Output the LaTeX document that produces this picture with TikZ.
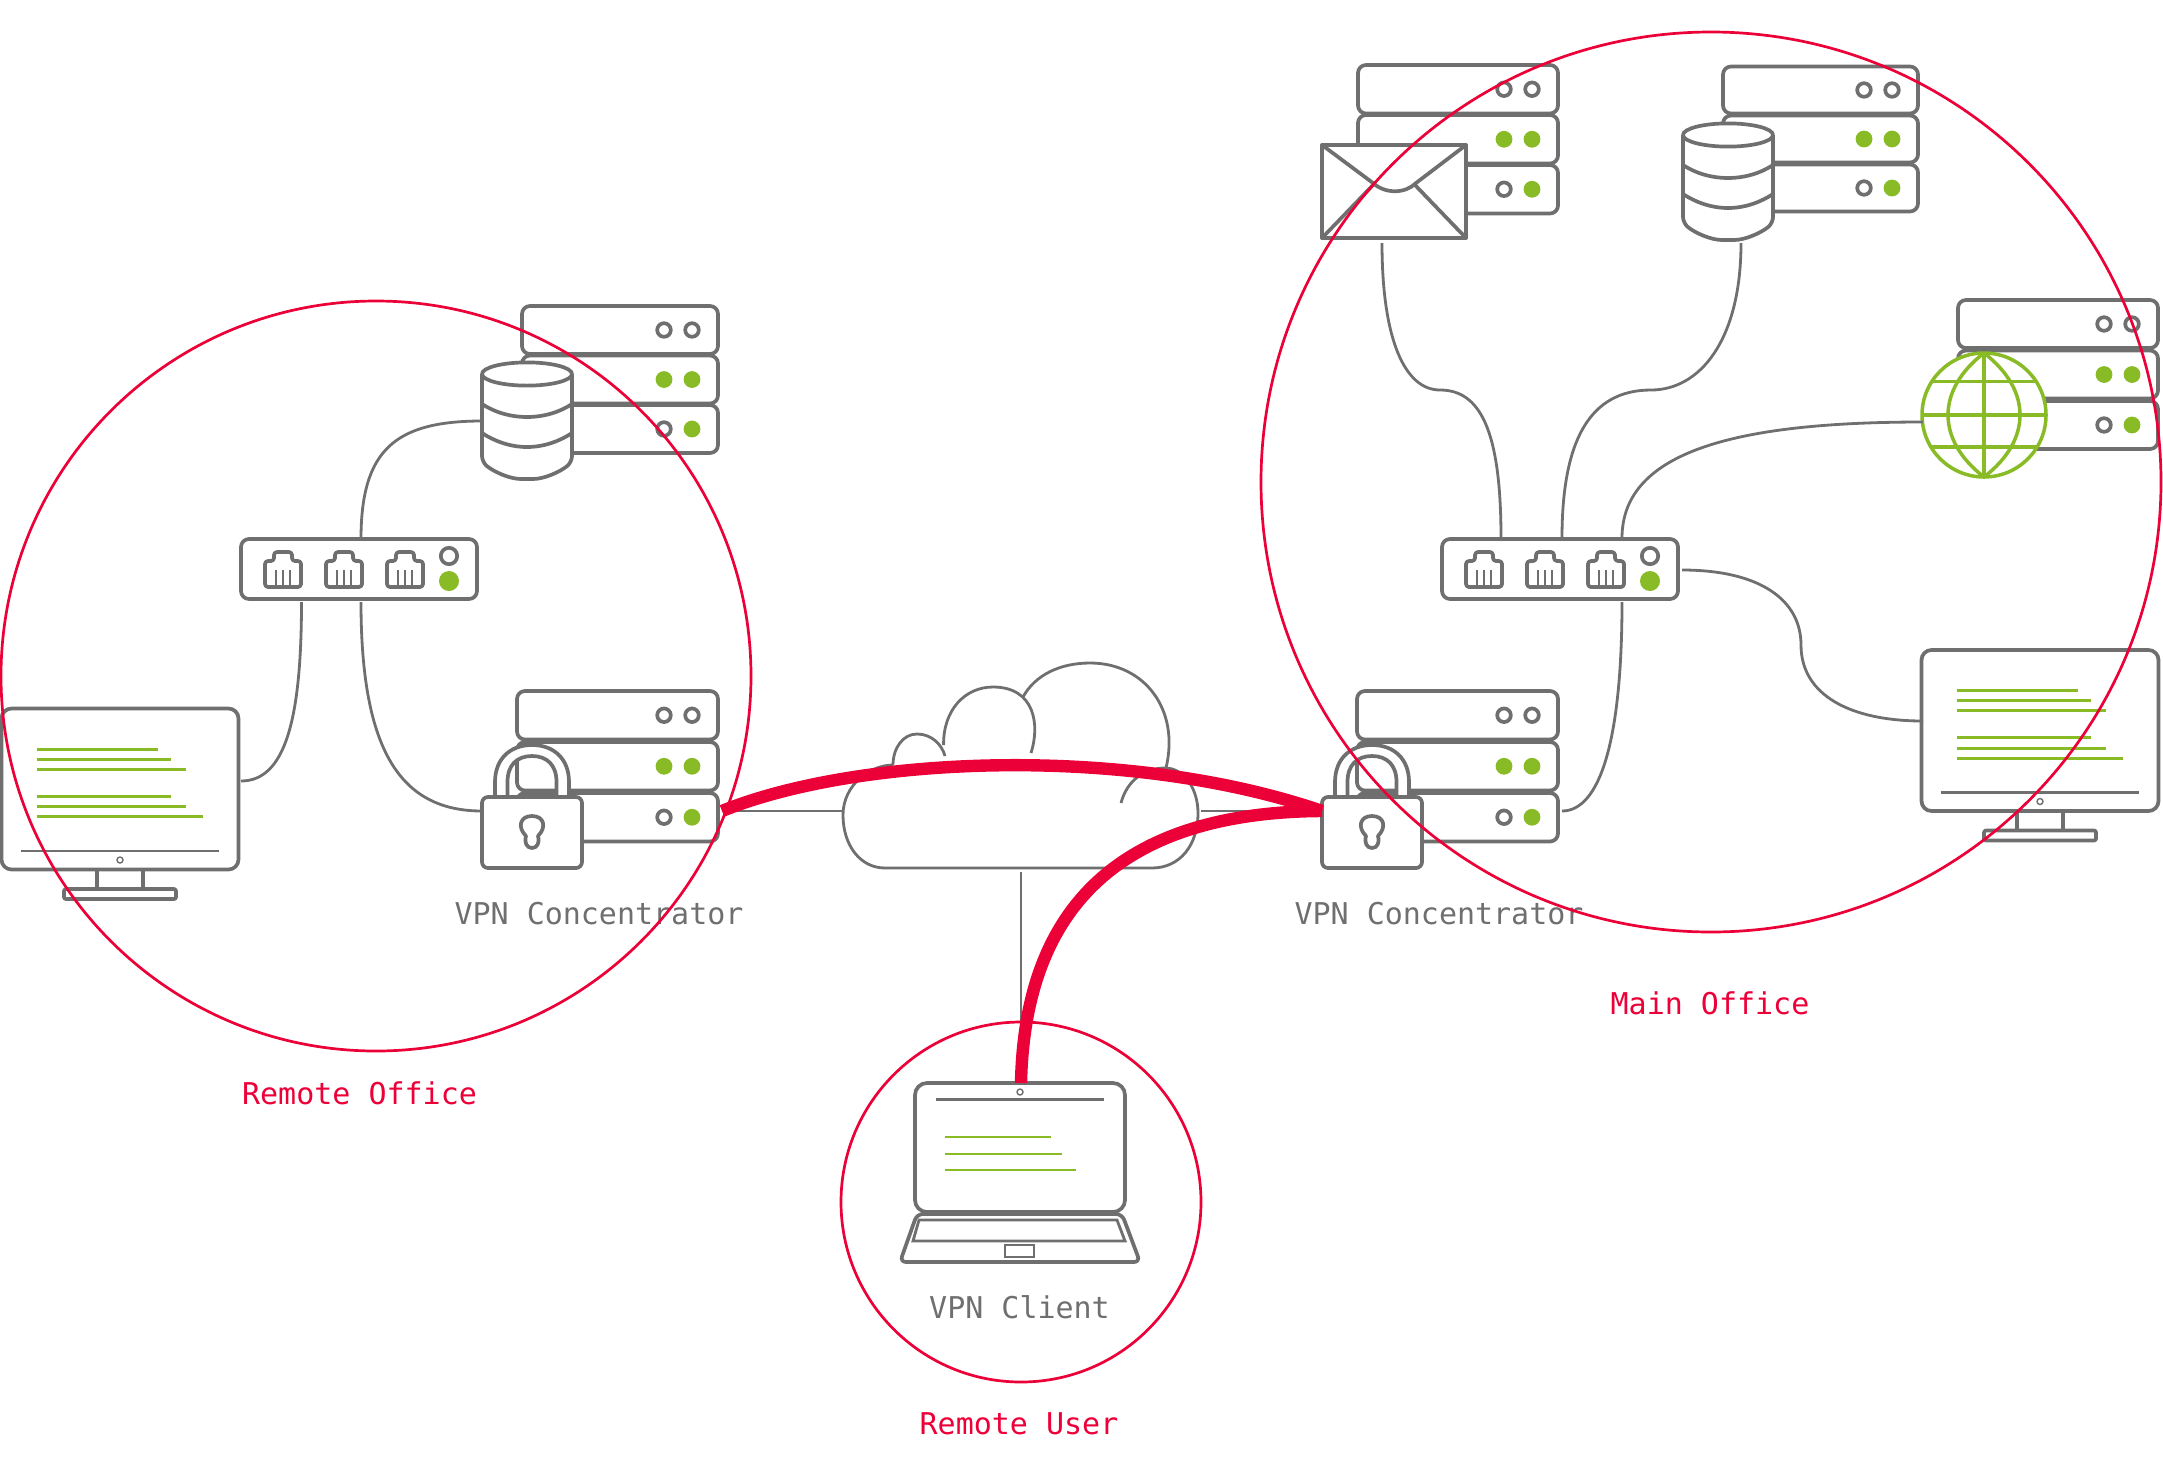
\documentclass[tikz,border=0pt]{standalone}
\usepackage{fontspec}
\usepackage{xcolor}
\newfontfamily\labelfont{DejaVu Sans Mono}
\definecolor{maingray}{RGB}{111,111,111}
\definecolor{maingreen}{RGB}{137,187,38}
\definecolor{mainred}{RGB}{236,0,56}
\tikzset{
  iconline/.style={draw=maingray,line width=1.85pt,line join=round},
  wire/.style={draw=maingray,line width=1.4pt},
  greenline/.style={draw=maingreen,line width=1.5pt},
  zone/.style={draw=mainred,line width=1.35pt},
  tunnel/.style={draw=mainred,line width=6.2pt},
  anchorbox/.style={inner sep=0pt,outer sep=0pt},
  devlabel/.style={text=maingray,font=\labelfont\fontsize{15}{18}\selectfont},
  zonelabel/.style={text=mainred,font=\labelfont\fontsize{15}{18}\selectfont}
}
\newcommand{\serverstack}[5]{
  \begin{scope}[shift={(#1,#2)}]
    \foreach \row in {0,1,2}
      \draw[iconline,fill=white,rounded corners=4pt] (0,\row*#5) rectangle (#3,\row*#5+#4);
    \draw[iconline] (#3-54,#4/2) circle (3.4pt);
    \draw[iconline] (#3-26,#4/2) circle (3.4pt);
    \fill[maingreen] (#3-54,#5+#4/2) circle (4.2pt);
    \fill[maingreen] (#3-26,#5+#4/2) circle (4.2pt);
    \draw[iconline] (#3-54,2*#5+#4/2) circle (3.4pt);
    \fill[maingreen] (#3-26,2*#5+#4/2) circle (4.2pt);
  \end{scope}
}
\newcommand{\dbicon}[3]{
  \begin{scope}[shift={(#2,#3)}]
    \draw[iconline,fill=white,rounded corners=3pt] (0,12) -- (0,100) .. controls (12,110) and (28,117) .. (45,117) .. controls (62,117) and (78,110) .. (90,100) -- (90,12);
    \draw[iconline,fill=white] (45,12) ellipse (22.5pt and 5.8pt);
    \draw[iconline] (0,42) .. controls (12,50) and (28,55) .. (45,55) .. controls (62,55) and (78,50) .. (90,42);
    \draw[iconline] (0,71) .. controls (12,79) and (28,85) .. (45,85) .. controls (62,85) and (78,79) .. (90,71);
    \node[anchorbox,minimum width=45pt,minimum height=58pt] (#1) at (45,58) {};
  \end{scope}
}
\newcommand{\lockicon}[2]{
  \begin{scope}[shift={(#2,745)}]
    \draw[iconline,fill=white] (13,52) -- (13,37) .. controls (13,14) and (28,0) .. (50,0) .. controls (72,0) and (87,14) .. (87,37) -- (87,52) -- (74.5,52) -- (74.5,37) .. controls (74.5,20) and (65,11) .. (50,11) .. controls (35,11) and (25.5,20) .. (25.5,37) -- (25.5,52) -- cycle;
    \node[iconline,fill=white,rounded corners=3pt,anchorbox,minimum width=50pt,minimum height=35.5pt] (#1) at (50,87.5) {};
    \draw[iconline] (44,91) .. controls (35,82) and (38,71) .. (50,71) .. controls (62,71) and (65,82) .. (56,91) .. controls (58,98) and (55,103) .. (50,103) .. controls (45,103) and (42,98) .. (44,91) -- cycle;
  \end{scope}
}
\newcommand{\switchicon}[2]{
  \begin{scope}[shift={(#2,539)}]
    \node[iconline,fill=white,rounded corners=4pt,anchorbox,minimum width=118pt,minimum height=30pt] (#1) at (118,30) {};
    \foreach \px in {24,85,146} {
      \begin{scope}[shift={(\px,13)}]
        \draw[iconline,rounded corners=1.5pt] (0,35) -- (0,9) -- (9,9) -- (9,0) -- (27,0) -- (27,9) -- (36,9) -- (36,35) -- cycle;
        \foreach \pin in {11,18,25}
          \draw[draw=maingray,line width=1.3pt] (\pin,18) -- (\pin,35);
      \end{scope}
    }
    \draw[iconline] (208,17) circle (4.1pt);
    \fill[maingreen] (208,42) circle (5pt);
  \end{scope}
}
\newcommand{\monitoricon}[3]{
  \begin{scope}[shift={(#2,#3)}]
    \node[iconline,fill=white,rounded corners=5pt,anchorbox,minimum width=118.5pt,minimum height=80.5pt] (#1) at (118.5,80.5) {};
    \draw[greenline] (35,40.5) -- (156,40.5);
    \draw[greenline] (35,50.5) -- (169,50.5);
    \draw[greenline] (35,60.5) -- (184,60.5);
    \draw[greenline] (35,87.5) -- (169,87.5);
    \draw[greenline] (35,98) -- (184,98);
    \draw[greenline] (35,108) -- (201,108);
    \draw[wire] (19.5,142.5) -- (217.5,142.5);
    \draw[draw=maingray,line width=.7pt] (118.5,151.5) circle (1.5pt);
    \draw[iconline] (95.5,161) -- (95.5,180.5) (141.5,161) -- (141.5,180.5);
    \draw[iconline,rounded corners=1pt] (62.5,180.5) rectangle (174.5,190.5);
  \end{scope}
}
\begin{document}
\begin{tikzpicture}[x=0.5pt,y=-0.5pt]
\useasboundingbox (0,0) rectangle (2163,1473);

\serverstack{522}{306}{196}{48}{49.5}
\serverstack{517}{691}{201}{48.5}{51}
\serverstack{1358}{65}{200}{48.5}{50}
\serverstack{1723}{66.5}{195}{47}{49}
\serverstack{1958}{300}{200}{48}{50.5}
\serverstack{1357}{691}{201}{48.5}{51}

\dbicon{dbRemote}{482}{362}
\dbicon{dbMain}{1683}{123}
\lockicon{lockRemote}{482}
\lockicon{lockMain}{1322}
\switchicon{switchRemote}{241}
\switchicon{switchMain}{1442}
\monitoricon{monitorRemote}{1.5}{708.5}
\monitoricon{monitorMain}{1921.5}{650}

\node[anchorbox,minimum width=72pt,minimum height=46.5pt] (mail) at (1394,191.5) {};
\draw[iconline,fill=white,line width=2pt] (mail.north west) rectangle (mail.south east);
\draw[iconline] (mail.north west) -- (1373,183) .. controls (1385,194) and (1405,194) .. (1416,183) -- (mail.north east);
\draw[iconline] (mail.south west) -- (1374,184) (mail.south east) -- (1414,184);

\node[anchorbox,circle,minimum size=62pt] (globe) at (1984,415) {};
\draw[draw=maingreen,line width=1.75pt,fill=white] (globe.center) circle (31pt);
\draw[draw=maingreen,line width=1.75pt] (1984,353) -- (1984,477);
\draw[draw=maingreen,line width=1.75pt] (1932,381.5) -- (2036,381.5);
\draw[draw=maingreen,line width=1.75pt] (1922,415) -- (2046,415);
\draw[draw=maingreen,line width=1.75pt] (1932,447) -- (2036,447);
\draw[draw=maingreen,line width=1.75pt] (1984,353) .. controls (1936,390) and (1936,440) .. (1984,477) .. controls (2032,440) and (2032,390) .. (1984,353);

\node[iconline,fill=white,rounded corners=6pt,anchorbox,minimum width=105pt,minimum height=64.5pt] (laptop) at (1020,1147.5) {};
\draw[wire,line width=1.5pt] (936,1099) -- (1104,1099);
\draw[draw=maingray,line width=.7pt] (1020,1092) circle (1.5pt);
\draw[greenline,line width=1.1pt] (945,1137) -- (1051,1137);
\draw[greenline,line width=1.1pt] (945,1154) -- (1062,1154);
\draw[greenline,line width=1.1pt] (945,1170) -- (1076,1170);
\draw[iconline,rounded corners=3pt] (917,1214) -- (1122,1214) -- (1140,1262) -- (900,1262) -- cycle;
\draw[wire] (919,1220) -- (1117,1220) -- (1125,1241) -- (913,1241) -- cycle;
\draw[draw=maingray,line width=.8pt] (1005,1245) rectangle (1034,1257);

\draw[wire,fill=white] (885,868) -- (1152,868) .. controls (1180,868) and (1198,845) .. (1198,813) .. controls (1198,790) and (1185,768) .. (1165,768) .. controls (1145,768) and (1127,780) .. (1121,803);
\draw[wire] (1166,768) .. controls (1180,710) and (1145,663) .. (1090,663) .. controls (1060,663) and (1035,675) .. (1023,697);
\draw[wire] (1031,753) .. controls (1040,725) and (1035,687) .. (993,687) .. controls (965,687) and (943,710) .. (943.6,745);
\draw[wire] (945,756) .. controls (942,745) and (932,734) .. (917,734) .. controls (903,734) and (893,748) .. (893,765);
\draw[wire] (893,765) .. controls (870,765) and (843,785) .. (843,815) .. controls (843,845) and (860,868) .. (885,868);
\coordinate (cloudW) at (843,811);
\coordinate (cloudE) at (1201,811);
\coordinate (cloudS) at (1021,872);

\coordinate (remoteTop) at (361,539);
\coordinate (remoteBotA) at (301.5,602);
\coordinate (remoteBotB) at (361,602);
\coordinate (monitorRemoteE) at (241,781);
\coordinate (serverRemoteE) at (722,811);
\coordinate (lockMainW) at (1322,811);
\coordinate (lockRemoteW) at (482,811);
\coordinate (laptopN) at (1021,1083);
\coordinate (mailS) at (1382,243);
\coordinate (dbMainS) at (1741,243);
\coordinate (mainTopA) at (1501,538);
\coordinate (mainTopB) at (1562,538);
\coordinate (mainTopC) at (1622,538);
\coordinate (mainEast) at (1682,570);
\coordinate (mainBot) at (1622,602);
\coordinate (globeW) at (1923,422);
\coordinate (monitorMainW) at (1923,721);
\coordinate (lockMainE) at (1562,811);

\draw[wire] (remoteTop) .. controls (361,450) and (395,421) .. (dbRemote.west |- 482,421);
\draw[wire] (remoteBotA) .. controls (301.5,720) and (285,781) .. (monitorRemoteE);
\draw[wire] (remoteBotB) .. controls (361,750) and (400,811) .. (lockRemoteW);
\draw[wire] (serverRemoteE) -- (cloudW);
\draw[wire] (cloudE) -- (lockMainW);
\draw[wire] (cloudS) -- (laptopN);
\draw[wire] (mailS) .. controls (1382,340) and (1405,390) .. (1440,390) .. controls (1480,390) and (1501,430) .. (mainTopA);
\draw[wire] (dbMainS) .. controls (1741,340) and (1700,390) .. (1651,390) .. controls (1590,390) and (1562,440) .. (mainTopB);
\draw[wire] (mainTopC) .. controls (1622,450) and (1740,422) .. (globeW);
\draw[wire] (mainEast) .. controls (1760,570) and (1801,600) .. (1801,645) .. controls (1801,695) and (1850,721) .. (monitorMainW);
\draw[wire] (mainBot) .. controls (1622,740) and (1600,811) .. (lockMainE);

\node[devlabel] (vpnRemote) at (599,913.5) {VPN Concentrator};
\node[devlabel] (vpnMain) at (1439,913.5) {VPN Concentrator};
\node[devlabel] (vpnClient) at (1019.5,1307.5) {VPN Client};
\node[zonelabel] (remoteOffice) at (359.5,1093) {Remote Office};
\node[zonelabel] (mainOffice) at (1710,1003) {Main Office};
\node[zonelabel] (remoteUser) at (1019,1424) {Remote User};

\draw[zone] (376,676) circle (187.5pt);
\draw[zone] (1711,482) circle (225pt);
\draw[zone] (1021,1202) circle (90pt);

\draw[tunnel] (serverRemoteE) .. controls (860,755) and (1130,745) .. (lockMainW);
\draw[tunnel] (lockMainW) .. controls (1140,812) and (1025,890) .. (laptopN);
\end{tikzpicture}
\end{document}
